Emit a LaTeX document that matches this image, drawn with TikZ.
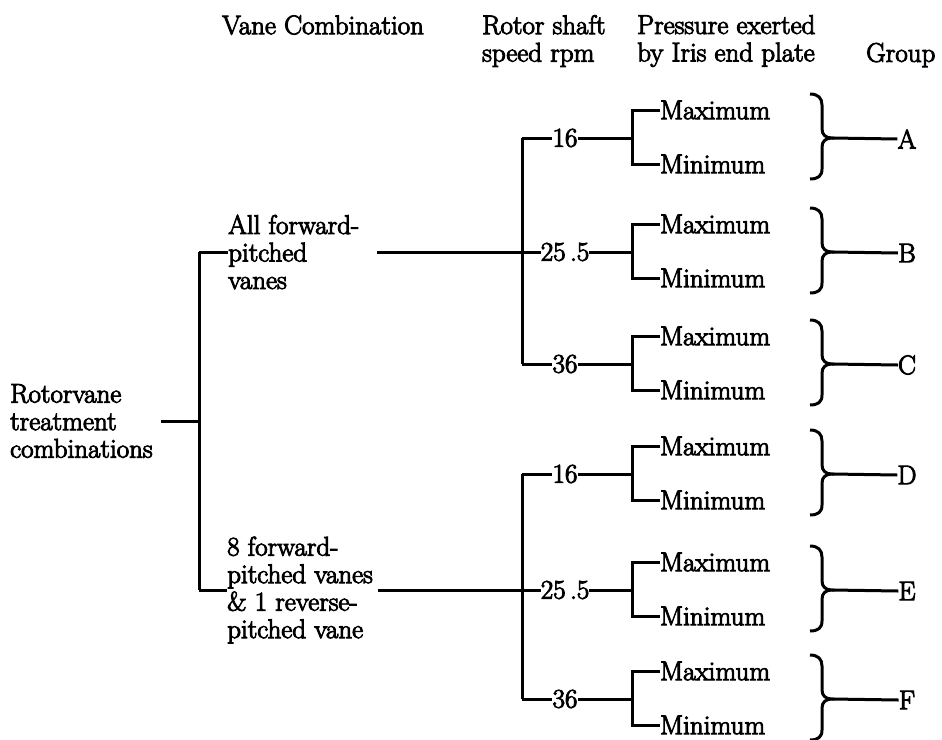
\documentclass[tikz,border=0pt]{standalone}
\usepackage{fontspec}
\newfontfamily\scanfont{Latin Modern Roman}[FakeBold=3.5]
\tikzset{
  txt/.style={inner sep=0pt, font=\scanfont\fontsize{27}{27.5}\selectfont, align=left},
  ln/.style={line width=3pt},
}
\begin{document}
\begin{tikzpicture}[x=1pt,y=-1pt]
\useasboundingbox (0,0) rectangle (942,739);
\fill[white] (0,0) rectangle (942,739);
% headers
\node[txt,anchor=west] (hVane) at (222,25) {Vane Combination};
\node[txt,anchor=west] (hRotor) at (482,41) {Rotor shaft\\speed rpm};
\node[txt,anchor=west] (hPress) at (637,41) {Pressure exerted\\by Iris end plate};
\node[txt,anchor=west] (hGroup) at (866,55) {Group};
% root and vane combinations
\node[txt,anchor=west] (root) at (10,421) {Rotorvane\\treatment\\combinations};
\node[txt,anchor=west] (vane1) at (228,252) {All forward-\\pitched\\vanes};
\node[txt,anchor=west] (vane2) at (227,590) {8 forward-\\pitched vanes\\\& 1 reverse-\\pitched vane};
\coordinate (j1) at (199,421);
\coordinate (j1t) at (199,252);
\coordinate (j1b) at (199,590);
\draw[ln] ([xshift=8pt]root.east) -- (j1);
\draw[ln] (j1t) -- (j1b);
\draw[ln] (j1t) -- (vane1.west);
\draw[ln] (j1b) -- (vane2.west);
% second level verticals
\coordinate (vA0) at (522,138);
\coordinate (vC0) at (522,364);
\coordinate (vD0) at (522,474);
\coordinate (vF0) at (522,699);
\coordinate (vB0) at (522,252);
\coordinate (vE0) at (522,590);
\draw[ln] (vA0) -- (vC0);
\draw[ln] (vD0) -- (vF0);
\draw[ln] ([xshift=18pt]vane1.east) -- (vB0);
\draw[ln] ([xshift=5pt]vane2.east) -- (vE0);
% groups
\foreach \g/\r/\num in {A/138/16, B/252/{25\,.5}, C/364/36, D/474/16, E/590/{25\,.5}, F/699/36}{
  \coordinate (v\g) at (522,\r);
  \coordinate (b\g) at (632,\r);
  \coordinate (bt\g) at (632,{\r-28});
  \coordinate (bb\g) at (632,{\r+26});
  \node[txt] (num\g) at (565,\r) {\num};
  \node[txt,anchor=west] (max\g) at (660,{\r-28}) {Maximum};
  \node[txt,anchor=west] (min\g) at (660,{\r+26}) {Minimum};
  \draw[ln] (v\g) -- (num\g.west);
  \draw[ln] (num\g.east) -- (b\g);
  \draw[ln] (max\g.west) -- (bt\g) -- (bb\g) -- (min\g.west);
  \draw[ln] (810,{\r-44}) .. controls (818,{\r-44}) and (822,{\r-40}) .. (822,{\r-33})
     -- (822,{\r-9}) .. controls (822,{\r-3}) and (826,\r) .. (832,\r)
     .. controls (826,\r) and (822,{\r+3}) .. (822,{\r+9})
     -- (822,{\r+31}) .. controls (822,{\r+38}) and (818,{\r+41}) .. (810,{\r+41});
  \coordinate (tip\g) at (832,\r);
  \node[txt] (grp\g) at (907,{\r+1}) {\g};
  \draw[ln] (tip\g) -- (grp\g.west);
}
\end{tikzpicture}
\end{document}
